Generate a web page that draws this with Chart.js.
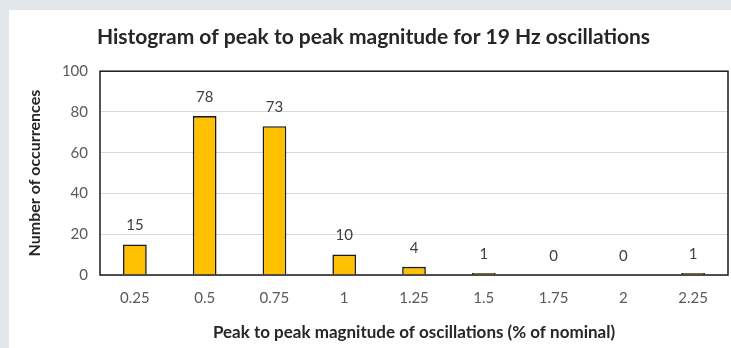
<!DOCTYPE html>
<html>
<head>
<meta charset="utf-8">
<script src="https://cdn.jsdelivr.net/npm/chart.js@4"></script>
<style>
  html, body { margin: 0; padding: 0; background: #e1e7ea; }
  #card { position: absolute; left: 9px; top: 10px; width: 722px; height: 338px; background: #fff; }
  canvas { display: block; }
</style>
</head>
<body>
<div id="card"><canvas id="chart-histograma" width="722" height="338"></canvas></div>
<script>
  const categorias = ['0.25', '0.5', '0.75', '1', '1.25', '1.5', '1.75', '2', '2.25'];
  const ocurrencias = [15, 78, 73, 10, 4, 1, 0, 0, 1];
  const ticksY = [0, 20, 40, 60, 80, 100];

  const tituloGrafico = 'Histogram of peak to peak magnitude for 19 Hz oscillations';
  const tituloX = 'Peak to peak magnitude of oscillations (% of nominal)';
  const tituloY = 'Number of occurrences';

  const fuente = 'Lato, "Open Sans", sans-serif';

  // etiquetas encima de cada barra + marco negro del area
  const etiquetasBarras = {
    id: 'etiquetasBarras',
    afterDatasetsDraw(chart) {
      const ctx = chart.ctx;
      const { left, top, right, bottom } = chart.chartArea;
      ctx.save();
      ctx.strokeStyle = '#1a1a1a';
      ctx.lineWidth = 1.5;
      ctx.strokeRect(left, top, right - left, bottom - top);

      ctx.font = '15px ' + fuente;
      ctx.fillStyle = '#404040';
      ctx.textAlign = 'center';
      ctx.textBaseline = 'middle';
      chart.getDatasetMeta(0).data.forEach((bar, i) => {
        ctx.fillText(ocurrencias[i], bar.x, bar.y - 19);
      });
      ctx.restore();
    }
  };

  let ctxHist = document.getElementById('chart-histograma').getContext('2d');

  let chartHist = new Chart(ctxHist, {
    type: 'bar',
    data: {
      labels: categorias,
      datasets: [{
        data: ocurrencias,
        backgroundColor: '#ffc000',
        borderColor: '#1a1a1a',
        borderWidth: 1.6,
        borderSkipped: 'bottom',
        barPercentage: 0.34,
        categoryPercentage: 1
      }]
    },
    options: {
      responsive: false,
      animation: false,
      layout: { padding: { left: 10, right: 3, top: 0, bottom: 0 } },
      plugins: {
        legend: { display: false },
        tooltip: { enabled: false },
        title: {
          display: true,
          text: tituloGrafico,
          color: '#262626',
          font: { family: fuente, size: 21, weight: 'bold' },
          padding: { top: 15, bottom: 21 }
        }
      },
      scales: {
        x: {
          grid: { display: false, drawTicks: false },
          border: { display: false },
          ticks: {
            color: '#595959',
            font: { family: fuente, size: 15 },
            padding: 14,
            maxRotation: 0
          },
          title: {
            display: true,
            text: tituloX,
            color: '#262626',
            font: { family: fuente, size: 17, weight: 'bold' },
            padding: { top: 5, bottom: 5 }
          },
          afterFit: (s) => { s.height = 73; }
        },
        y: {
          min: 0,
          max: 100,
          afterBuildTicks: (s) => { s.ticks = ticksY.map(v => ({ value: v })); },
          grid: { color: '#d9d9d9', lineWidth: 1, drawTicks: false },
          border: { display: false },
          ticks: {
            color: '#595959',
            font: { family: fuente, size: 15 },
            padding: 12
          },
          title: {
            display: true,
            text: tituloY,
            color: '#262626',
            font: { family: fuente, size: 16, weight: 'bold' },
            padding: { top: 6, bottom: 6 }
          },
          afterFit: (s) => { s.width = 81; }
        }
      }
    },
    plugins: [etiquetasBarras]
  });
</script>
</body>
</html>
